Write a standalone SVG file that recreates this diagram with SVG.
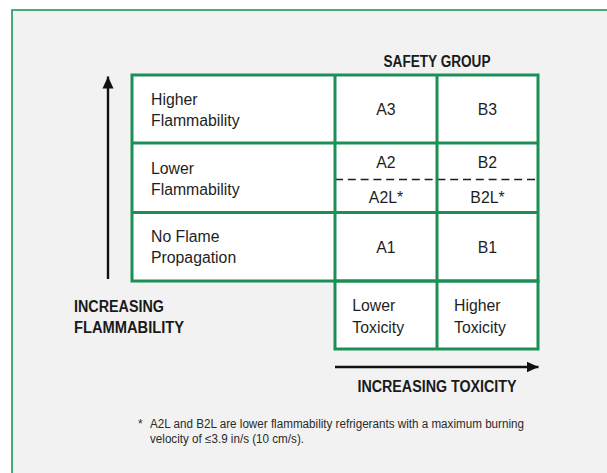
<svg xmlns="http://www.w3.org/2000/svg" width="607" height="473" viewBox="0 0 607 473">
  <style>
    .grid { stroke: #1b8f56; stroke-width: 3; fill: none; }
    .cell { fill: #ffffff; }
    .t { font-family: "Liberation Sans", Arial, sans-serif; font-size: 15.8px; fill: #1e1e1e; }
    .c { text-anchor: middle; }
    .b { font-family: "Liberation Sans", Arial, sans-serif; font-weight: bold; font-size: 16px; fill: #1a1a1a; }
    .fn { font-family: "Liberation Sans", Arial, sans-serif; font-size: 12px; fill: #2a2a2a; }
    .axis { stroke: #111; stroke-width: 2.4; fill: none; }
  </style>
  <defs>
    <marker id="ah" viewBox="0 0 12 12" refX="12" refY="6" markerWidth="12" markerHeight="12" markerUnits="userSpaceOnUse" orient="auto">
      <path d="M0,0.5 L12,6 L0,11.5 Z" fill="#111"/>
    </marker>
  </defs>

  <rect id="frame" x="12" y="10" width="640" height="500" fill="#f2f2f2" stroke="#1b9a5a" stroke-width="1.6"/>

  <g id="safety-group-title">
    <text class="b c" x="437" y="66.5" textLength="107" lengthAdjust="spacingAndGlyphs">SAFETY GROUP</text>
  </g>

  <g id="table">
    <rect class="cell" x="132" y="75" width="406" height="206"/>
    <rect class="cell" x="335" y="281" width="203" height="68"/>
    <line x1="335" y1="179.5" x2="538" y2="179.5" stroke="#1e1e1e" stroke-width="1.5" stroke-dasharray="8 4.8"/>
    <rect class="grid" x="132" y="75" width="406" height="206"/>
    <rect class="grid" x="335" y="281" width="203" height="68"/>
    <line class="grid" x1="335" y1="75" x2="335" y2="281"/>
    <line class="grid" x1="437" y1="75" x2="437" y2="349"/>
    <line class="grid" x1="132" y1="143" x2="538" y2="143"/>
    <line class="grid" x1="132" y1="212.5" x2="538" y2="212.5"/>
  </g>

  <g id="row-higher-flammability">
    <text class="t" x="151" y="105">Higher</text>
    <text class="t" x="151" y="126">Flammability</text>
  </g>
  <g id="row-lower-flammability">
    <text class="t" x="151" y="173.5">Lower</text>
    <text class="t" x="151" y="195">Flammability</text>
  </g>
  <g id="row-no-flame">
    <text class="t" x="151" y="242">No Flame</text>
    <text class="t" x="151" y="263">Propagation</text>
  </g>

  <g id="cell-A3"><text class="t c" x="386" y="115">A3</text></g>
  <g id="cell-B3"><text class="t c" x="487.5" y="115">B3</text></g>
  <g id="cell-A2"><text class="t c" x="386" y="167.5">A2</text></g>
  <g id="cell-B2"><text class="t c" x="487.5" y="167.5">B2</text></g>
  <g id="cell-A2L"><text class="t c" x="386" y="202.7">A2L*</text></g>
  <g id="cell-B2L"><text class="t c" x="487.5" y="202.7">B2L*</text></g>
  <g id="cell-A1"><text class="t c" x="386" y="253.3">A1</text></g>
  <g id="cell-B1"><text class="t c" x="487.5" y="253.3">B1</text></g>

  <g id="col-lower-toxicity">
    <text class="t" x="352.3" y="311">Lower</text>
    <text class="t" x="352.3" y="332.5">Toxicity</text>
  </g>
  <g id="col-higher-toxicity">
    <text class="t" x="454" y="311">Higher</text>
    <text class="t" x="454" y="332.5">Toxicity</text>
  </g>

  <g id="label-increasing-flammability">
    <text class="b" x="74" y="311.7" textLength="90" lengthAdjust="spacingAndGlyphs">INCREASING</text>
    <text class="b" x="74" y="332.7" textLength="110" lengthAdjust="spacingAndGlyphs">FLAMMABILITY</text>
  </g>
  <g id="label-increasing-toxicity">
    <text class="b" x="357.5" y="391.7" textLength="159" lengthAdjust="spacingAndGlyphs">INCREASING TOXICITY</text>
  </g>

  <g id="connectors">
    <line class="axis" x1="108" y1="279" x2="108" y2="76.5" marker-end="url(#ah)"/>
    <line class="axis" x1="335" y1="367" x2="538.5" y2="367" marker-end="url(#ah)"/>
  </g>

  <g id="footnote">
    <text class="fn" x="138" y="428.3">*</text>
    <text class="fn" x="150" y="428.3" textLength="374" lengthAdjust="spacingAndGlyphs">A2L and B2L are lower flammability refrigerants with a maximum burning</text>
    <text class="fn" x="150" y="442.5" textLength="154" lengthAdjust="spacingAndGlyphs">velocity of ≤3.9 in/s (10 cm/s).</text>
  </g>
</svg>
